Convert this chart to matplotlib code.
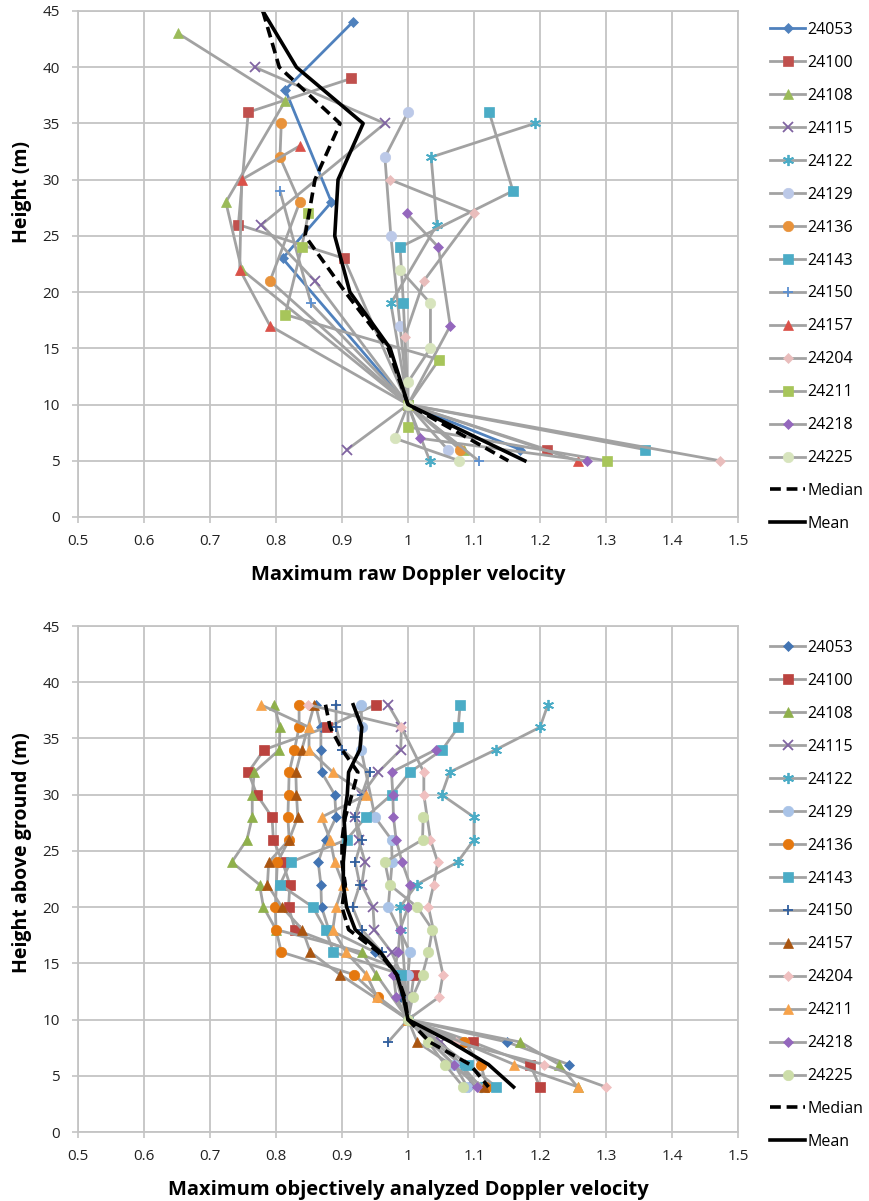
import matplotlib
matplotlib.use('Agg')
import matplotlib.pyplot as plt
from matplotlib.ticker import FuncFormatter, MultipleLocator

plt.rcParams['font.family'] = ['Open Sans', 'DejaVu Sans']

names = ['24053', '24100', '24108', '24115', '24122', '24129', '24136',
         '24143', '24150', '24157', '24204', '24211', '24218', '24225']

# ---- top panel: maximum raw Doppler velocity (height m, normalised velocity)
raw_h = {
    '24053': [44, 38, 28, 23, 10, 6],
    '24100': [39, 36, 26, 23, 10, 6],
    '24108': [43, 37, 28, 22, 10, 6],
    '24115': [40, 35, 26, 21, 10, 6],
    '24122': [35, 32, 26, 19, 10, 5],
    '24129': [36, 32, 25, 17, 10, 6],
    '24136': [35, 32, 28, 21, 10, 6],
    '24143': [36, 29, 24, 19, 10, 6],
    '24150': [29, 19, 10, 5],
    '24157': [33, 30, 22, 17, 10, 5],
    '24204': [30, 27, 21, 16, 10, 5],
    '24211': [27, 24, 18, 14, 10, 8, 5],
    '24218': [27, 24, 17, 10, 7, 5],
    '24225': [22, 19, 15, 12, 10, 7, 5],
}
raw_v = {
    '24053': [0.916, 0.814, 0.884, 0.810, 1.0, 1.170],
    '24100': [0.914, 0.758, 0.743, 0.903, 1.0, 1.210],
    '24108': [0.652, 0.814, 0.724, 0.748, 1.0, 1.085],
    '24115': [0.768, 0.965, 0.778, 0.859, 1.0, 0.908],
    '24122': [1.192, 1.035, 1.044, 0.974, 1.0, 1.033],
    '24129': [1.000, 0.965, 0.974, 0.988, 1.0, 1.060],
    '24136': [0.808, 0.806, 0.836, 0.791, 1.0, 1.079],
    '24143': [1.123, 1.159, 0.988, 0.993, 1.0, 1.359],
    '24150': [0.806, 0.853, 1.0, 1.107],
    '24157': [0.836, 0.748, 0.745, 0.791, 1.0, 1.257],
    '24204': [0.973, 1.100, 1.024, 0.995, 1.0, 1.473],
    '24211': [0.849, 0.839, 0.814, 1.047, 1.0, 1.0, 1.301],
    '24218': [0.998, 1.046, 1.064, 1.0, 1.018, 1.271],
    '24225': [0.988, 1.034, 1.034, 1.0, 1.0, 0.980, 1.078],
}
raw_stat_h = [45, 40, 35, 30, 25, 20, 15, 10, 5]
raw_median = [0.780, 0.805, 0.897, 0.859, 0.844, 0.905, 0.970, 1.0, 1.152]
raw_mean = [0.780, 0.831, 0.932, 0.894, 0.889, 0.912, 0.973, 1.0, 1.177]

# ---- bottom panel: maximum objectively analysed Doppler velocity
oa_h = {
    '24053': [38, 36, 34, 32, 30, 28, 26, 24, 22, 20, 18, 16, 14, 12, 10, 8, 6],
    '24100': [38, 36, 34, 32, 30, 28, 26, 24, 22, 20, 18, 14, 10, 8, 6, 4],
    '24108': [38, 36, 34, 32, 30, 28, 26, 24, 22, 20, 18, 16, 14, 10, 8, 6, 4],
    '24115': [38, 36, 34, 32, 30, 28, 26, 24, 22, 20, 18, 16, 14, 12, 10, 8, 6, 4],
    '24122': [38, 36, 34, 32, 30, 28, 26, 24, 22, 20, 18, 10, 6, 4],
    '24129': [38, 36, 34, 28, 26, 24, 20, 16, 14, 10, 6, 4],
    '24136': [38, 36, 34, 32, 30, 28, 26, 24, 20, 18, 16, 14, 12, 10, 8, 6, 4],
    '24143': [38, 36, 34, 32, 30, 28, 26, 24, 22, 20, 18, 16, 14, 10, 6, 4],
    '24150': [38, 36, 34, 32, 30, 28, 26, 24, 22, 20, 18, 16, 14, 12, 10, 8],
    '24157': [38, 34, 32, 30, 28, 26, 24, 22, 20, 18, 16, 14, 10, 8, 4],
    '24204': [38, 36, 32, 30, 26, 24, 22, 20, 14, 12, 10, 8, 6, 4],
    '24211': [38, 36, 34, 32, 30, 28, 26, 24, 22, 20, 18, 16, 14, 12, 10, 6, 4],
    '24218': [34, 32, 30, 28, 26, 24, 22, 20, 18, 16, 14, 12, 10, 6, 4],
    '24225': [28, 26, 24, 22, 20, 18, 16, 14, 12, 10, 8, 6, 4],
}
oa_v = {
    '24053': [0.860, 0.868, 0.868, 0.869, 0.889, 0.891, 0.875, 0.864, 0.868, 0.869,
              0.880, 0.950, 0.985, 0.990, 1.0, 1.150, 1.244],
    '24100': [0.951, 0.877, 0.782, 0.758, 0.771, 0.794, 0.796, 0.810, 0.821, 0.819,
              0.829, 1.009, 1.0, 1.098, 1.185, 1.200],
    '24108': [0.797, 0.806, 0.805, 0.767, 0.764, 0.764, 0.756, 0.733, 0.775, 0.781,
              0.800, 0.930, 0.952, 1.0, 1.170, 1.229, 1.257],
    '24115': [0.970, 0.990, 0.989, 0.955, 0.930, 0.920, 0.925, 0.935, 0.930, 0.947,
              0.949, 0.975, 0.990, 0.995, 1.0, 1.050, 1.080, 1.100],
    '24122': [1.212, 1.200, 1.133, 1.063, 1.051, 1.100, 1.100, 1.075, 1.013, 0.988,
              0.990, 1.0, 1.080, 1.110],
    '24129': [0.929, 0.930, 0.929, 0.950, 0.975, 0.976, 0.970, 1.003, 1.000, 1.0,
              1.070, 1.090],
    '24136': [0.835, 0.835, 0.828, 0.820, 0.819, 0.818, 0.820, 0.802, 0.799, 0.800,
              0.808, 0.918, 0.955, 1.0, 1.085, 1.110, 1.120],
    '24143': [1.079, 1.076, 1.052, 1.003, 0.975, 0.936, 0.907, 0.822, 0.806, 0.856,
              0.875, 0.887, 0.990, 1.0, 1.091, 1.134],
    '24150': [0.891, 0.891, 0.900, 0.942, 0.930, 0.920, 0.930, 0.920, 0.927, 0.916,
              0.930, 0.960, 0.980, 0.990, 1.0, 0.970],
    '24157': [0.858, 0.839, 0.830, 0.831, 0.833, 0.820, 0.789, 0.787, 0.809, 0.840,
              0.852, 0.897, 1.0, 1.014, 1.115],
    '24204': [0.849, 0.990, 1.024, 1.024, 1.034, 1.045, 1.039, 1.031, 1.053, 1.047,
              1.0, 1.072, 1.206, 1.300],
    '24211': [0.777, 0.850, 0.850, 0.886, 0.937, 0.869, 0.882, 0.889, 0.902, 0.891,
              0.886, 0.906, 0.937, 0.953, 1.0, 1.161, 1.258],
    '24218': [1.042, 0.975, 0.977, 0.978, 0.982, 0.991, 1.003, 1.000, 0.988, 0.985,
              0.978, 0.982, 1.0, 1.069, 1.105],
    '24225': [1.023, 1.022, 0.965, 0.972, 1.014, 1.037, 1.031, 1.022, 1.007, 1.0,
              1.031, 1.056, 1.084],
}
oa_stat_h = [38, 36, 34, 32, 30, 28, 26, 24, 22, 20, 18, 16, 14, 12, 10, 8, 6, 4]
oa_median = [0.875, 0.882, 0.900, 0.924, 0.915, 0.905, 0.900, 0.900, 0.905, 0.900,
             0.910, 0.955, 0.983, 0.995, 1.0, 1.033, 1.094, 1.122]
oa_mean = [0.917, 0.930, 0.927, 0.910, 0.908, 0.903, 0.905, 0.902, 0.902, 0.907,
           0.920, 0.958, 0.983, 0.993, 1.0, 1.065, 1.122, 1.160]

markers = {'24053': 'D', '24100': 's', '24108': '^', '24115': 'x', '24122': (6, 2, 0),
           '24129': 'o', '24136': 'o', '24143': 's', '24150': '+', '24157': '^',
           '24204': 'D', '24211': 's', '24218': 'D', '24225': 'o'}
msize = {'D': 5.5, 's': 7, '^': 7.5, 'x': 7, 'o': 7.5, '+': 7}

top_colors = {'24053': '#4F81BD', '24100': '#C0504D', '24108': '#9BBB59',
              '24115': '#8064A2', '24122': '#4BACC6', '24129': '#BCC9E8',
              '24136': '#E8923A', '24143': '#4BACC6', '24150': '#5B8FD0',
              '24157': '#DA5149', '24204': '#E9BDBC', '24211': '#A7C55A',
              '24218': '#9467BD', '24225': '#D7E4BD'}
bot_colors = {'24053': '#4274B3', '24100': '#BB433F', '24108': '#8FB04B',
              '24115': '#8064A2', '24122': '#4BACC6', '24129': '#A9C3E7',
              '24136': '#E5780F', '24143': '#4BACC6', '24150': '#2F5E9E',
              '24157': '#AA5510', '24204': '#F0C0C0', '24211': '#F6A24A',
              '24218': '#9467BD', '24225': '#CCDDA8'}
bot_markers = dict(markers)
bot_markers['24211'] = '^'

gray = '#A2A2A2'
grid_c = '#C4C4C4'

fig = plt.figure(figsize=(8.69, 12.01), dpi=100)
ax1 = fig.add_axes([78/869, 1-517/1201, 660/869, 506/1201])
ax2 = fig.add_axes([78/869, 1-1132/1201, 660/869, 506/1201])


def draw(ax, hs, vs, colors, mks, line_colors, sh, med, mean):
    for n in names:
        m = mks[n]
        ms = msize.get(m, 7) if isinstance(m, str) else 8
        ax.plot(vs[n], hs[n], color=line_colors.get(n, gray), lw=2.0,
                marker=m, ms=ms, mfc=colors[n], mec=colors[n],
                mew=1.3 if m in ('x', '+') or not isinstance(m, str) else 0.5,
                label=n)
    ax.plot(med, sh, color='black', lw=2.6, ls=(0, (3, 1.6)), label='Median')
    ax.plot(mean, sh, color='black', lw=2.6, label='Mean')
    ax.set_xlim(0.5, 1.5)
    ax.set_ylim(0, 45)
    ax.xaxis.set_major_locator(MultipleLocator(0.1))
    ax.yaxis.set_major_locator(MultipleLocator(5))
    ax.xaxis.set_major_formatter(FuncFormatter(lambda x, p: '%g' % round(x, 2)))
    ax.grid(True, color=grid_c, lw=1.3)
    ax.set_axisbelow(True)
    for s in ax.spines.values():
        s.set_color(grid_c)
        s.set_linewidth(1.3)
    ax.tick_params(colors=grid_c, labelcolor='#222222', labelsize=11, length=4,
                   width=1.2)
    ax.tick_params(axis='x', pad=8.5)
    ax.tick_params(axis='y', pad=9)


draw(ax1, raw_h, raw_v, top_colors, markers, {'24053': '#4F81BD'},
     raw_stat_h, raw_median, raw_mean)
draw(ax2, oa_h, oa_v, bot_colors, bot_markers, {},
     oa_stat_h, oa_median, oa_mean)

ax1.set_xlabel('Maximum raw Doppler velocity', fontsize=14.5, fontweight='bold',
               labelpad=11)
ax1.set_ylabel('Height (m)', fontsize=14, fontweight='bold')
ax2.set_xlabel('Maximum objectively analyzed Doppler velocity', fontsize=14.5,
               fontweight='bold', labelpad=11)
ax2.set_ylabel('Height above ground (m)', fontsize=14, fontweight='bold')
ax1.yaxis.set_label_coords(-0.07, 0.642)
ax2.yaxis.set_label_coords(-0.07, 0.553)

for ax, ytop in ((ax1, 22), (ax2, 640)):
    ax.legend(loc='upper left', bbox_to_anchor=(770/869, 1-ytop/1201),
              bbox_transform=fig.transFigure, frameon=False, fontsize=11.5,
              handlelength=2.2, handletextpad=0.15, labelspacing=1.06,
              borderpad=0, borderaxespad=0)

fig.savefig('out.png', dpi=100)
